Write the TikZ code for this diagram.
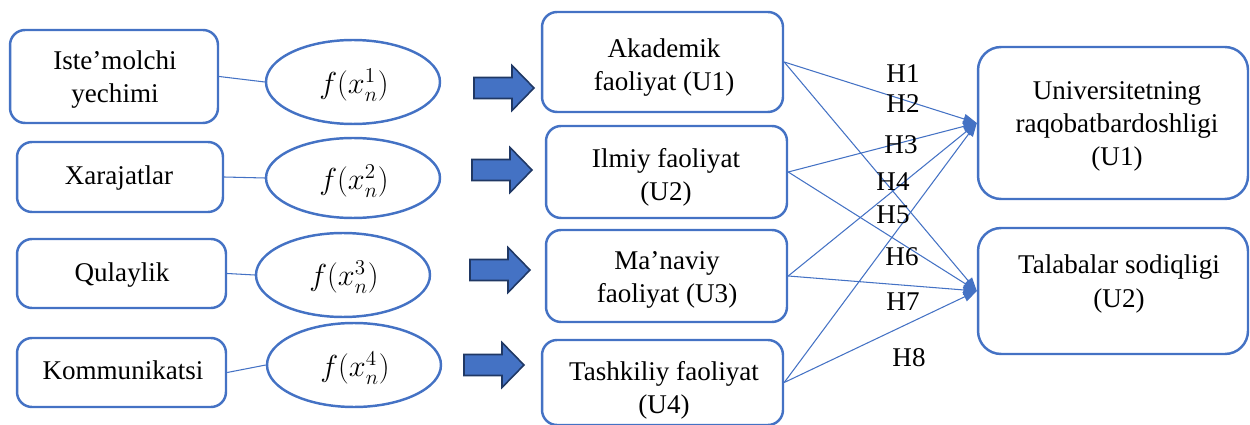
\documentclass[tikz,border=0pt]{standalone}
\usepackage{fontspec}
\setmainfont{Liberation Serif}
\usetikzlibrary{shapes.geometric,arrows.meta}

\definecolor{accent}{HTML}{4472C4}
\definecolor{navy}{HTML}{203864}

\tikzset{
  box/.style={draw=accent, line width=1.4pt, rounded corners=0.3cm, inner sep=0pt},
  bigbox/.style={box, rounded corners=0.46cm},
  oval/.style={draw=accent, line width=1.4pt, ellipse, inner sep=0pt,
    minimum width=3.48cm, minimum height=1.68cm},
  txt/.style={inner sep=0pt, align=center,
    font=\fontsize{15.4}{18.8}\selectfont},
  mathtxt/.style={inner sep=0pt, font=\fontsize{17.5}{20}\selectfont},
  hyp/.style={txt},
  link/.style={draw=accent, line width=0.6pt},
  rel/.style={draw=accent, line width=0.6pt,
    -{Triangle[length=0.27cm,width=0.2cm]}},
  pics/blockarrow/.style={code={
    \path[fill=accent, draw=navy, line width=0.9pt, line join=miter]
      (0,-10.5) -- (38,-10.5) -- (38,-22.5) -- (60,0) -- (38,22.5)
      -- (38,10.5) -- (0,10.5) -- cycle;
  }}
}

\begin{document}
\begin{tikzpicture}[x=0.02cm, y=-0.02cm]
\useasboundingbox (0,0) rectangle (1250,425);

% factor boxes
\node[box, minimum width=4.16cm, minimum height=1.86cm] (l1) at (114,76.5) {};
\node[box, minimum width=4.12cm, minimum height=1.40cm] (l2) at (120,177) {};
\node[box, minimum width=4.18cm, minimum height=1.38cm] (l3) at (121.5,273.5) {};
\node[box, minimum width=4.18cm, minimum height=1.38cm] (l4) at (121.5,372.5) {};
\node[txt] (l1t) at (115,80) {Iste’molchi\\yechimi};
\node[txt] (l2t) at (119,178) {Xarajatlar};
\node[txt] (l3t) at (122,275) {Qulaylik};
\node[txt] (l4t) at (123,370) {Kommunikatsi};

% functions
\node[oval] (e1) at (353,82) {};
\node[oval, minimum height=1.60cm] (e2) at (353,178) {};
\node[oval] (e3) at (343,275) {};
\node[oval] (e4) at (354,365) {};
\node[mathtxt] (e1t) at (354,85) {$f(x_n^1)$};
\node[mathtxt] (e2t) at (354,181) {$f(x_n^2)$};
\node[mathtxt] (e3t) at (344,277) {$f(x_n^3)$};
\node[mathtxt] (e4t) at (355,368) {$f(x_n^4)$};

\draw[link] (l1.east) -- (e1.west);
\draw[link] (l2.east) -- (e2.west);
\draw[link] (l3.east) -- (e3.west);
\draw[link] (l4.east) -- (e4.west);

% block arrows
\pic (a1) at (474,88) {blockarrow};
\pic (a2) at (472,170) {blockarrow};
\pic (a3) at (470,270) {blockarrow};
\pic (a4) at (464,365) {blockarrow};

% activity boxes
\node[box, minimum width=4.82cm, minimum height=2.00cm] (m1) at (662.5,62) {};
\node[box, minimum width=4.82cm, minimum height=1.84cm] (m2) at (666.5,172) {};
\node[box, minimum width=4.82cm, minimum height=1.84cm] (m3) at (666.5,276) {};
\node[box, minimum width=4.82cm, minimum height=1.70cm] (m4) at (662.5,382.5) {};
\node[txt] (m1t) at (664,68) {Akademik\\faoliyat (U1)};
\node[txt] (m2t) at (666,177) {Ilmiy faoliyat\\(U2)};
\node[txt] (m3t) at (667,280) {Ma’naviy\\faoliyat (U3)};
\node[txt] (m4t) at (664,390) {Tashkiliy faoliyat\\(U4)};

% outcome boxes
\node[bigbox, minimum width=5.4cm, minimum height=3.04cm] (r1) at (1113,123) {};
\node[bigbox, minimum width=5.4cm, minimum height=2.52cm] (r2) at (1113,291) {};
\node[txt] (r1t) at (1117,126) {Universitetning\\raqobatbardoshligi\\(U1)};
\node[txt] (r2t) at (1119,284) {Talabalar sodiqligi\\(U2)};

% hypotheses
\foreach \m in {m1,m2,m3,m4}{
  \draw[rel] (\m.east) -- (r1.west);
  \draw[rel] (\m.east) -- (r2.west);
}

\node[hyp] (h1) at (903,74) {H1};
\node[hyp] (h2) at (903,104) {H2};
\node[hyp] (h3) at (901,145) {H3};
\node[hyp] (h4) at (893,182) {H4};
\node[hyp] (h5) at (893,215) {H5};
\node[hyp] (h6) at (902,257) {H6};
\node[hyp] (h7) at (903,302) {H7};
\node[hyp] (h8) at (909,358) {H8};
\end{tikzpicture}
\end{document}
